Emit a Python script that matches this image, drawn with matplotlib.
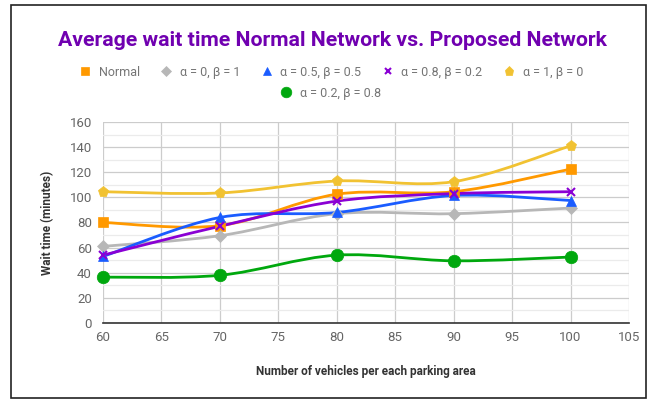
import numpy as np
import matplotlib
matplotlib.use('Agg')
import matplotlib.pyplot as plt
from matplotlib.path import Path
from matplotlib.patches import PathPatch, Rectangle
from matplotlib.lines import Line2D

vehicles = [60, 70, 80, 90, 100]
normal = [80, 77.5, 102.5, 104.5, 122.5]
a0_b1 = [61, 69.5, 87, 87, 91.5]
a05_b05 = [53, 84, 88, 101.5, 97.5]
a08_b02 = [54, 77, 97, 103, 104.5]
a1_b0 = [104.5, 103.5, 113, 112.5, 141]
a02_b08 = [36.5, 38, 54, 49.5, 52.5]

labels = ['Normal', 'α = 0, β = 1', 'α = 0.5, β = 0.5', 'α = 0.8, β = 0.2',
          'α = 1, β = 0', 'α = 0.2, β = 0.8']
series = [normal, a0_b1, a05_b05, a08_b02, a1_b0, a02_b08]
colors = ['#ff9900', '#b7b7b7', '#1a5cff', '#8a00d4', '#f1c232', '#00a80e']
markers = ['s', 'D', '^', 'x', 'p', 'o']
msizes = [7, 6, 7, 5.5, 8, 9]

matplotlib.rc('font', family=['Roboto', 'DejaVu Sans'])


def smooth_path(xs, ys, k=1/6.0):
    # catmull-rom style bezier through the points
    pts = np.column_stack([xs, ys]).astype(float)
    verts = [pts[0]]
    codes = [Path.MOVETO]
    n = len(pts)
    for i in range(n - 1):
        p0 = pts[max(i - 1, 0)]
        p1 = pts[i]
        p2 = pts[i + 1]
        p3 = pts[min(i + 2, n - 1)]
        c1 = p1 + (p2 - p0) * k
        c2 = p2 - (p3 - p1) * k
        verts += [c1, c2, p2]
        codes += [Path.CURVE4] * 3
    return Path(verts, codes)


fig = plt.figure(figsize=(6.54, 4.01), dpi=100)
ax = fig.add_axes([0.1575, 0.1945, 0.8043, 0.5013])

ax.set_xlim(60, 105)
ax.set_ylim(0, 160)
ax.set_xticks(np.arange(60, 106, 5))
ax.set_yticks(np.arange(0, 161, 20))
ax.set_yticks(np.arange(10, 160, 20), minor=True)
ax.grid(True, which='major', color='#cccccc', linewidth=0.9)
ax.grid(True, which='minor', axis='y', color='#ebebeb', linewidth=0.9)
ax.set_axisbelow(True)
for s in ['top', 'right', 'left']:
    ax.spines[s].set_visible(False)
ax.spines['bottom'].set_color('#333333')
ax.spines['bottom'].set_linewidth(1.2)
ax.tick_params(axis='both', which='both', length=0, labelsize=9.5, labelcolor='#666666')
ax.tick_params(axis='x', pad=6)
ax.tick_params(axis='y', pad=8)

for ys, c, m, ms in zip(series, colors, markers, msizes):
    patch = PathPatch(smooth_path(vehicles, ys), facecolor='none', edgecolor=c,
                      linewidth=2, zorder=3)
    ax.add_patch(patch)
    ax.plot(vehicles, ys, linestyle='none', marker=m, color=c, markersize=ms,
            markeredgewidth=1.5 if m == 'x' else 0.5, zorder=4, clip_on=False)

ax.set_xlabel('Number of vehicles per each parking area', fontsize=8.5,
              fontweight='bold', color='#333333', labelpad=15)
ax.set_ylabel('Wait time (minutes)', fontsize=8.5, fontweight='bold',
              color='#333333', labelpad=11)

fig.text(0.508, 0.9, 'Average wait time Normal Network vs. Proposed Network',
         ha='center', va='center', fontsize=15.3, fontweight='bold', color='#7000b0')

handles = [Line2D([], [], linestyle='none', marker=m, color=c, markersize=ms * 0.85,
                  markeredgewidth=1.5 if m == 'x' else 0.5)
           for c, m, ms in zip(colors, markers, msizes)]
fig.legend(handles[:5], labels[:5], loc='center', bbox_to_anchor=(0.506, 0.82),
           ncol=5, frameon=False, fontsize=9, labelcolor='#757575',
           handlelength=1.0, handletextpad=0.6, columnspacing=1.6)
fig.legend(handles[5:], labels[5:], loc='center', bbox_to_anchor=(0.505, 0.768),
           ncol=1, frameon=False, fontsize=9, labelcolor='#757575',
           handlelength=1.0, handletextpad=0.6)

fig.patches.append(Rectangle((11 / 654, 3 / 401), 635 / 654, 393 / 401,
                             transform=fig.transFigure, fill=False,
                             edgecolor='#222222', linewidth=1.2))

fig.savefig('out.png', dpi=100)
